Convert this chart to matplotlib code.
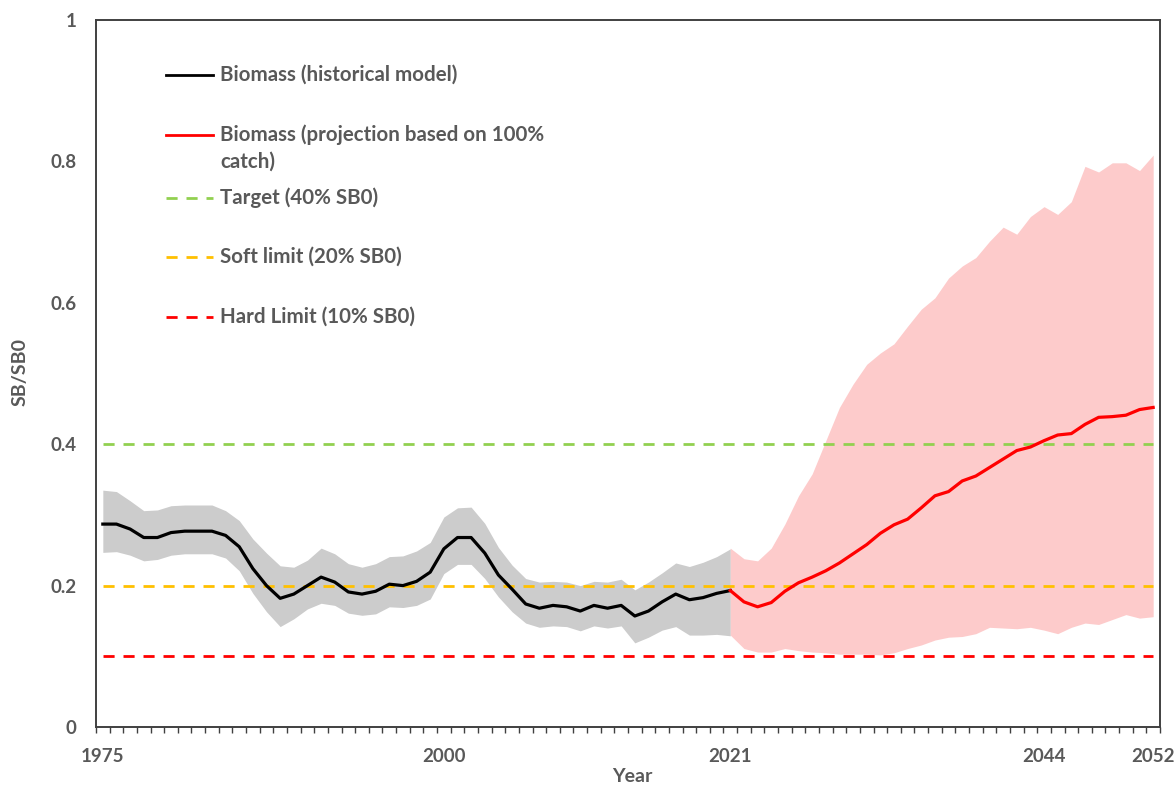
import numpy as np
import matplotlib
matplotlib.use("Agg")
import matplotlib.pyplot as plt

plt.rcParams['font.family'] = ['Lato', 'DejaVu Sans']

# Historical spawning biomass relative to unfished (SB/SB0), with uncertainty band
years_hist = list(range(1975, 2022))
hist_median = [0.287, 0.287, 0.280, 0.268, 0.268, 0.275, 0.277, 0.277, 0.277, 0.271,
               0.255, 0.224, 0.200, 0.182, 0.188, 0.200, 0.212, 0.205, 0.191, 0.188,
               0.192, 0.202, 0.200, 0.206, 0.219, 0.252, 0.268, 0.268, 0.246, 0.215,
               0.195, 0.174, 0.168, 0.172, 0.170, 0.164, 0.172, 0.168, 0.172, 0.157,
               0.164, 0.177, 0.188, 0.180, 0.183, 0.189, 0.193]
hist_upper = [0.335, 0.333, 0.320, 0.306, 0.307, 0.313, 0.314, 0.314, 0.314, 0.306,
              0.292, 0.266, 0.246, 0.228, 0.226, 0.236, 0.253, 0.245, 0.231, 0.226,
              0.231, 0.241, 0.242, 0.249, 0.261, 0.297, 0.310, 0.311, 0.288, 0.254,
              0.229, 0.210, 0.205, 0.206, 0.205, 0.200, 0.206, 0.205, 0.209, 0.194,
              0.205, 0.218, 0.232, 0.227, 0.233, 0.241, 0.252]
hist_lower = [0.247, 0.248, 0.243, 0.235, 0.237, 0.243, 0.245, 0.245, 0.245, 0.239,
              0.221, 0.189, 0.163, 0.142, 0.153, 0.167, 0.175, 0.172, 0.161, 0.158,
              0.160, 0.170, 0.169, 0.172, 0.181, 0.217, 0.230, 0.230, 0.210, 0.184,
              0.163, 0.147, 0.141, 0.143, 0.142, 0.136, 0.143, 0.140, 0.143, 0.119,
              0.127, 0.137, 0.142, 0.130, 0.130, 0.131, 0.129]

# Projection at 100% catch
years_proj = list(range(2021, 2053))
proj_median = [0.193, 0.177, 0.170, 0.176, 0.192, 0.204, 0.212, 0.221, 0.232, 0.245,
               0.258, 0.274, 0.286, 0.294, 0.310, 0.327, 0.333, 0.348, 0.355, 0.367,
               0.379, 0.391, 0.396, 0.405, 0.413, 0.415, 0.428, 0.438, 0.439, 0.441,
               0.449, 0.452]
proj_upper = [0.253, 0.238, 0.235, 0.253, 0.287, 0.327, 0.358, 0.405, 0.452, 0.485,
              0.513, 0.529, 0.542, 0.567, 0.591, 0.607, 0.635, 0.652, 0.664, 0.687,
              0.707, 0.697, 0.722, 0.736, 0.725, 0.743, 0.793, 0.785, 0.798, 0.798,
              0.787, 0.809]
proj_lower = [0.130, 0.111, 0.106, 0.106, 0.111, 0.108, 0.106, 0.105, 0.103, 0.103,
              0.103, 0.102, 0.105, 0.111, 0.116, 0.123, 0.127, 0.128, 0.132, 0.141,
              0.140, 0.139, 0.141, 0.137, 0.132, 0.141, 0.147, 0.145, 0.152, 0.159,
              0.154, 0.156]

# Reference points
ref_labels = ["Target (40% SB0)", "Soft limit (20% SB0)", "Hard Limit (10% SB0)"]
ref_values = [0.4, 0.2, 0.1]
ref_colors = ["#92D050", "#FFC000", "#FF0000"]

year_labels = [1975, 2000, 2021, 2044, 2052]
y_ticks = [0, 0.2, 0.4, 0.6, 0.8, 1]
y_tick_labels = ["0", "0.2", "0.4", "0.6", "0.8", "1"]

text_gray = "#595959"
axis_gray = "#404040"
dash = (0, (4, 3.2))

fig = plt.figure(figsize=(11.76, 7.85), dpi=100)
ax = fig.add_axes([96 / 1176, 58 / 785, 1064 / 1176, 707 / 785])

ax.fill_between(years_hist, hist_lower, hist_upper, color="#CCCCCC", lw=0, zorder=1)
ax.fill_between(years_proj, proj_lower, proj_upper, color="#FDCBCB", lw=0, zorder=1)

first, last = years_hist[0], years_proj[-1]
for v, c in zip(ref_values, ref_colors):
    ax.plot([first, last], [v, v], color=c, lw=2, ls=dash, zorder=2)

ax.plot(years_hist, hist_median, color="black", lw=2.3, zorder=3,
        solid_joinstyle="round")
ax.plot(years_proj, proj_median, color="#FF0000", lw=2.3, zorder=3,
        solid_joinstyle="round")

# Axes
ax.set_xlim(1974.5, 2052.5)
ax.set_ylim(0, 1)
for s in ax.spines.values():
    s.set_color(axis_gray)
    s.set_linewidth(1.4)

ax.set_xticks(year_labels)
ax.set_xticklabels([str(y) for y in year_labels])
ax.set_xticks(np.arange(1974.5, 2053.0, 1.0), minor=True)
ax.tick_params(axis="x", which="major", length=0, pad=15)
ax.tick_params(axis="x", which="minor", length=4, width=1.0, color=axis_gray,
               direction="out")
ax.set_yticks(y_ticks)
ax.set_yticklabels(y_tick_labels)
ax.tick_params(axis="y", which="both", length=0, pad=14)
for lab in ax.get_xticklabels() + ax.get_yticklabels():
    lab.set_fontsize(13.5)
    lab.set_fontweight("bold")
    lab.set_color(text_gray)

ax.set_xlabel("Year", fontsize=14, fontweight="bold", color=text_gray)
ax.set_ylabel("SB/SB0", fontsize=14, fontweight="bold", color=text_gray)
ax.xaxis.label.set_va("center")
ax.yaxis.label.set_va("center")
ax.xaxis.set_label_coords((632 - 96) / 1064, (727 - 776) / 707)
ax.yaxis.set_label_coords((20 - 96) / 1064, (727 - 372) / 707)

# Legend drawn as a list of entries inside the plot area
def frac_y(py):
    return (727 - py) / 707

hx0, hx1, tx = 0.0658, 0.110, 0.1165
legend_size = 14.8
entries = [
    ("Biomass (historical model)", "black", "-", 75),
    ("Biomass (projection based on 100%", "#FF0000", "-", 135),
    (ref_labels[0], ref_colors[0], "--", 198),
    (ref_labels[1], ref_colors[1], "--", 257),
    (ref_labels[2], ref_colors[2], "--", 317),
]
for label, color, style, py in entries:
    yf = frac_y(py)
    ax.plot([hx0, hx1], [yf, yf], transform=ax.transAxes, color=color, lw=2,
            ls=(dash if style == "--" else "-"), clip_on=False, zorder=4)
    ax.text(tx, yf, label, transform=ax.transAxes, va="center", ha="left",
            fontsize=legend_size, fontweight="bold", color=text_gray)
ax.text(tx, frac_y(162), "catch)", transform=ax.transAxes, va="center", ha="left",
        fontsize=legend_size, fontweight="bold", color=text_gray)

fig.savefig("out.png", dpi=100)
